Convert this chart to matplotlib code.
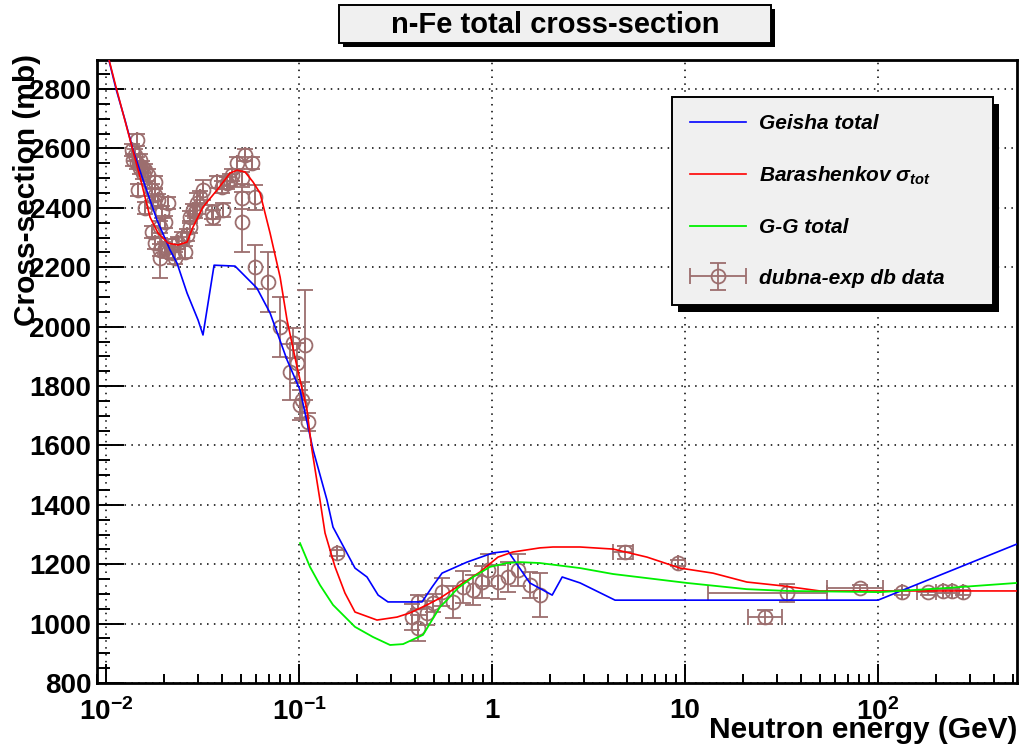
import matplotlib.pyplot as plt
import numpy as np
from matplotlib.patches import Rectangle
from matplotlib.transforms import IdentityTransform
from matplotlib.legend_handler import HandlerErrorbar
from matplotlib.ticker import (FixedLocator, FixedFormatter, MultipleLocator,
                               LogLocator, NullFormatter)

plt.rcParams['font.family'] = ['Liberation Sans', 'DejaVu Sans']
plt.rcParams['font.weight'] = 'bold'
plt.rcParams['mathtext.fontset'] = 'custom'
plt.rcParams['mathtext.rm'] = 'Liberation Sans:bold'
plt.rcParams['mathtext.bf'] = 'Liberation Sans:bold'
plt.rcParams['mathtext.it'] = 'Liberation Sans:bold:italic'

# Geisha total
geisha_e = [0.0098, 0.01127, 0.01254, 0.0138, 0.01556, 0.01837, 0.02147, 0.02333,
            0.0263, 0.030, 0.0318, 0.0363, 0.0466, 0.0605, 0.0708, 0.0867, 0.1012,
            0.1183, 0.1396, 0.150, 0.195, 0.225, 0.257, 0.289, 0.434, 0.489, 0.551,
            0.741, 1.01, 1.21, 1.57, 2.05, 2.31, 2.86, 4.34, 100, 525]
geisha_xs = [2960, 2800, 2696, 2595, 2494, 2359, 2258, 2214,
             2113, 2022, 1972, 2207, 2204, 2130, 2046, 1888, 1787,
             1585, 1416, 1325, 1187, 1157, 1096, 1073, 1073, 1123, 1170,
             1207, 1238, 1244, 1137, 1096, 1157, 1137, 1079, 1079, 1268]

# Barashenkov sigma_tot
bar_e = [0.01037, 0.01134, 0.0150, 0.0169, 0.0186, 0.0210, 0.0236, 0.0263, 0.0282,
         0.0318, 0.0376, 0.0439, 0.0477, 0.0525, 0.0578, 0.0628, 0.0708, 0.0798,
         0.0867, 0.0977, 0.110, 0.1167, 0.1284, 0.1364, 0.1537, 0.173, 0.195,
         0.2535, 0.322, 0.376, 0.460, 0.538, 0.708, 0.867, 1.074, 1.28, 1.77,
         2.07, 2.86, 4.24, 6.35, 9.42, 13.96, 20.9, 32.2, 50, 525]
bar_xs = [2898, 2800, 2504, 2369, 2315, 2281, 2275, 2285, 2335,
          2403, 2460, 2517, 2527, 2521, 2487, 2450, 2315, 2167,
          2022, 1864, 1719, 1585, 1416, 1305, 1191, 1103, 1039,
          1012, 1022, 1036, 1063, 1086, 1137, 1174, 1224, 1241, 1255,
          1258, 1258, 1251, 1224, 1187, 1170, 1140, 1127, 1110, 1110]

# G-G total
gg_e = [0.1012, 0.114, 0.1284, 0.150, 0.195, 0.2416, 0.2963, 0.346, 0.439, 0.489,
        0.538, 0.571, 0.667, 0.798, 0.976, 1.196, 1.397, 1.77, 2.86, 4.24, 10.2,
        20.9, 33.8, 102, 228, 525]
gg_xs = [1271, 1191, 1130, 1063, 989, 955, 928, 931, 962, 1012,
         1056, 1073, 1120, 1157, 1191, 1204, 1207, 1204, 1187, 1167, 1137,
         1116, 1110, 1106, 1120, 1137]

# dubna-exp data
exp_e = [0.01449, 0.01364, 0.0138, 0.01449, 0.0150, 0.01537, 0.01556, 0.01592,
         0.01651, 0.01413, 0.0150, 0.01795, 0.01466, 0.0173, 0.01795, 0.01753,
         0.0186, 0.02095, 0.01592, 0.0195, 0.02022, 0.0173, 0.01905, 0.01795,
         0.01905, 0.02022, 0.02095, 0.02224, 0.02198, 0.0236, 0.02477, 0.0263,
         0.02566, 0.01905, 0.0228, 0.02723, 0.02723, 0.02824, 0.02964, 0.0307,
         0.03184, 0.0289, 0.0354, 0.0358, 0.0376, 0.0399, 0.0404, 0.0424,
         0.0439, 0.0450, 0.0477, 0.0507, 0.0525, 0.0571, 0.0507, 0.0507,
         0.0592, 0.0592, 0.0690, 0.0798, 0.0931, 0.1074, 0.0977, 0.0898,
         0.1037, 0.1012, 0.1114,
         0.157, 0.385, 0.414, 0.414, 0.461, 0.495, 0.551, 0.628, 0.708, 0.798,
         0.887, 0.953, 1.074, 1.21, 1.364, 1.57, 1.77,
         4.89, 9.2, 33.8, 26.0, 80.7, 133, 181.6, 217, 241.6, 275]
exp_xs = [2628, 2595, 2561, 2551, 2534, 2537, 2517, 2527,
          2510, 2578, 2561, 2487, 2460, 2460, 2443, 2420,
          2426, 2416, 2399, 2386, 2352, 2319, 2335, 2281,
          2258, 2265, 2251, 2248, 2275, 2281, 2298, 2308,
          2251, 2231, 2231, 2335, 2369, 2393, 2416, 2436,
          2460, 2386, 2386, 2369, 2487, 2470, 2393, 2484,
          2494, 2510, 2551, 2500, 2578, 2551, 2433, 2352,
          2436, 2201, 2150, 1999, 1945, 1938, 1877, 1847,
          1753, 1736, 1679,
          1238, 1022, 985, 1073, 1036, 1069, 1106, 1073, 1123, 1113,
          1140, 1180, 1140, 1157, 1180, 1130, 1096,
          1241, 1204, 1103, 1022, 1120, 1106, 1106, 1110, 1110, 1106]
exp_err = [20, 20, 20, 20, 20, 20, 20, 20,
           20, 20, 20, 20, 20, 20, 20, 20,
           20, 20, 20, 20, 20, 20, 20, 20,
           20, 20, 20, 20, 20, 20, 20, 20,
           20, 67, 20, 20, 20, 20, 35, 20,
           35, 20, 25, 25, 20, 20, 25, 20,
           20, 20, 20, 20, 20, 20, 38, 100,
           42, 75, 100, 100, 50, 185, 67, 93,
           60, 50, 30,
           10, 45, 44, 25, 40, 30, 47, 54, 54, 50,
           54, 54, 57, 50, 54, 44, 74,
           22, 10, 29, 24, 10, 8, 8, 8, 8, 8]
# energy ranges (only the high-energy points have them)
exp_emin = exp_e[:84] + [4.24, 9.2, 13.2, 21.2, 54.4, 133, 160, 217, 241.6, 275]
exp_emax = exp_e[:84] + [5.38, 9.2, 54.4, 31.8, 106, 133, 200, 217, 241.6, 275]

xtick_pos = [0.01, 0.1, 1, 10, 100]
xtick_labels = ['$10^{-2}$', '$10^{-1}$', '1', '10', '$10^{2}$']

exp_color = '#9c6e6e'

fig = plt.figure(figsize=(10.2, 7.53), dpi=100)
ax = fig.add_axes([97 / 1020, 70 / 753, 920 / 1020, 623 / 753])

e = np.array(exp_e)
xerr = [e - np.array(exp_emin), np.array(exp_emax) - e]
h_exp = ax.errorbar(exp_e, exp_xs, xerr=xerr, yerr=exp_err, fmt='o',
                    mfc='none', mec=exp_color, ecolor=exp_color, ms=10,
                    mew=1.3, elinewidth=1.3, capsize=5.5, capthick=1.3,
                    zorder=3)
h_gei, = ax.plot(geisha_e, geisha_xs, color='#0000ff', lw=1.2, zorder=4)
h_bar, = ax.plot(bar_e, bar_xs, color='#ff0000', lw=1.2, zorder=4)
h_gg, = ax.plot(gg_e, gg_xs, color='#00f000', lw=1.3, zorder=4)

ax.set_xscale('log')
ax.set_xlim(0.00898, 525)
ax.set_ylim(800, 2898)
ax.xaxis.set_major_locator(FixedLocator(xtick_pos))
ax.xaxis.set_major_formatter(FixedFormatter(xtick_labels))
ax.xaxis.set_minor_locator(LogLocator(base=10, subs=np.arange(2, 10)))
ax.xaxis.set_minor_formatter(NullFormatter())
ax.yaxis.set_major_locator(MultipleLocator(200))
ax.yaxis.set_minor_locator(MultipleLocator(50))
ax.tick_params(which='both', direction='in', top=False, right=False,
               labelsize=20, width=1.4)
ax.tick_params(axis='y', which='major', length=19.5, pad=4)
ax.tick_params(axis='y', which='minor', length=9.4)
ax.tick_params(axis='x', which='major', length=13.7, pad=11)
ax.tick_params(axis='x', which='minor', length=6.5)
for s in ax.spines.values():
    s.set_linewidth(2)
ax.grid(True, which='major', color='black', linestyle=(0, (1, 3.5)), lw=1.1)

fig.text(1017 / 1020, 1 - 716 / 753, 'Neutron energy (GeV)', ha='right',
         va='top', fontsize=21.5, weight='bold')
fig.text(27 / 1020, 1 - 54 / 753, 'Cross-section (mb)', ha='center',
         va='top', rotation=90, fontsize=21.5, weight='bold')

# title box with shadow
fig.add_artist(Rectangle((343 / 1020, 1 - 47 / 753), 432 / 1020, 38 / 753,
                         transform=fig.transFigure, fc='black', ec='none'))
fig.add_artist(Rectangle((339 / 1020, 1 - 43 / 753), 432 / 1020, 38 / 753,
                         transform=fig.transFigure, fc='#f0f0f0', ec='black',
                         lw=1.4))
fig.text(555 / 1020, 1 - 25 / 753, 'n-Fe total cross-section', ha='center',
         va='center', fontsize=21, weight='bold')

leg = ax.legend([h_gei, h_bar, h_gg, h_exp],
                ['Geisha total', r'Barashenkov $\sigma_{tot}$', 'G-G total',
                 'dubna-exp db data'],
                handler_map={h_exp: HandlerErrorbar(xerr_size=1.35,
                                                    yerr_size=0.65)},
                loc='upper left', bbox_to_anchor=(0.625, 0.611, 0.349, 0.330),
                mode='expand', borderaxespad=0,
                prop={'size': 15, 'weight': 'bold', 'style': 'italic'},
                frameon=True, fancybox=False, framealpha=1,
                facecolor='#f0f0f0', edgecolor='black', handlelength=2.7,
                handletextpad=0.62, labelspacing=1.5, borderpad=0.85)
leg.get_frame().set_linewidth(1.4)
leg.set_zorder(10)

# legend shadow, placed from the drawn legend box
fig.canvas.draw()
bb = leg.get_window_extent()
shadow = Rectangle((bb.x0 + 6, bb.y0 - 7), bb.width, bb.height,
                   transform=IdentityTransform(), fc='black', ec='none',
                   zorder=9, clip_on=False)
ax.add_artist(shadow)

fig.savefig('out.png', dpi=100)
